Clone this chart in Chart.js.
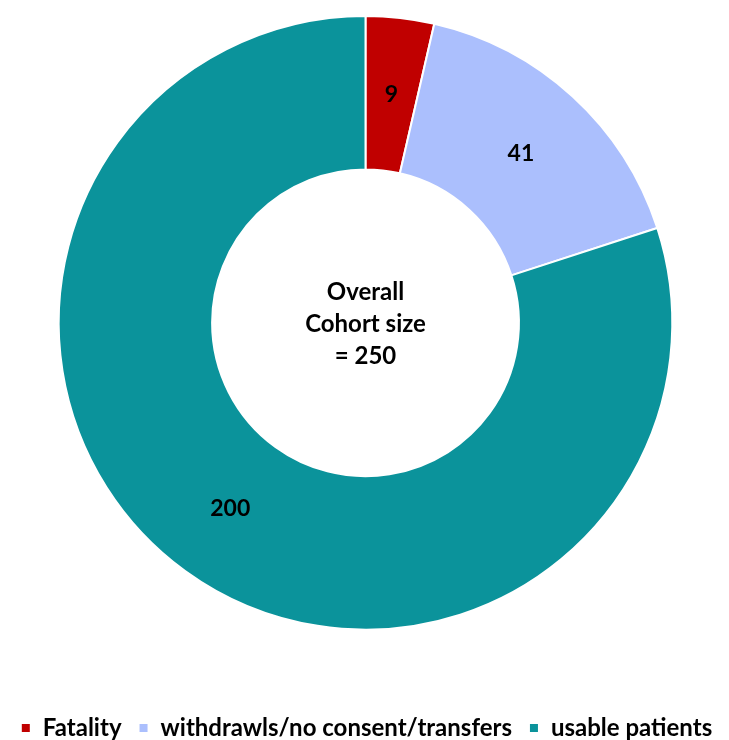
<!DOCTYPE html>
<html>
<head>
<meta charset="utf-8">
<script src="https://cdn.jsdelivr.net/npm/chart.js@4/dist/chart.umd.min.js"></script>
<style>
  html, body { margin: 0; padding: 0; background: #fff; }
  #wrap { width: 729px; height: 740px; }
</style>
</head>
<body>
<div id="wrap"><canvas id="cohort-chart"></canvas></div>
<script>
const categories = ['Fatality', 'withdrawls/no consent/transfers', 'usable patients']
const patients = [9, 41, 200]
const colors = ['#C00000', '#ABBFFD', '#0B939B']
const centerLines = ['Overall', 'Cohort size', '= 250']

const FONT = 'Lato, "Open Sans", sans-serif'

// values in the middle of each slice
const sliceLabels = {
  id: 'sliceLabels',
  afterDatasetsDraw(chart) {
    const ctx = chart.ctx
    const meta = chart.getDatasetMeta(0)
    ctx.save()
    ctx.font = 'bold 23px ' + FONT
    ctx.fillStyle = '#000'
    ctx.textAlign = 'center'
    ctx.textBaseline = 'middle'
    meta.data.forEach((arc, i) => {
      const p = arc.tooltipPosition()
      ctx.fillText(chart.data.datasets[0].data[i], p.x, p.y)
    })
    ctx.restore()
  }
}

const centerText = {
  id: 'centerText',
  afterDatasetsDraw(chart) {
    const ctx = chart.ctx
    const arc = chart.getDatasetMeta(0).data[0]
    ctx.save()
    ctx.font = 'bold 24px ' + FONT
    ctx.fillStyle = '#000'
    ctx.textAlign = 'center'
    ctx.textBaseline = 'middle'
    const lh = 32
    centerLines.forEach((t, i) => {
      ctx.fillText(t, arc.x, arc.y + 1 + (i - (centerLines.length - 1) / 2) * lh)
    })
    ctx.restore()
  }
}

new Chart(document.getElementById('cohort-chart'), {
  type: 'doughnut',
  data: {
    labels: categories,
    datasets: [{
      data: patients,
      backgroundColor: colors,
      borderColor: '#fff',
      borderWidth: 2
    }]
  },
  options: {
    responsive: true,
    maintainAspectRatio: false,
    animation: false,
    cutout: '50%',
    layout: { padding: { top: 15, left: 2, right: -2, bottom: -10 } },
    plugins: {
      tooltip: { enabled: false },
      legend: {
        position: 'bottom',
        title: { display: true, text: '', padding: { top: 54, bottom: 0 } },
        labels: {
          boxWidth: 10,
          boxHeight: 10,
          padding: 17,
          color: '#000',
          font: { family: FONT, size: 24, weight: 'bold' }
        }
      }
    }
  },
  plugins: [sliceLabels, centerText]
});
</script>
</body>
</html>
